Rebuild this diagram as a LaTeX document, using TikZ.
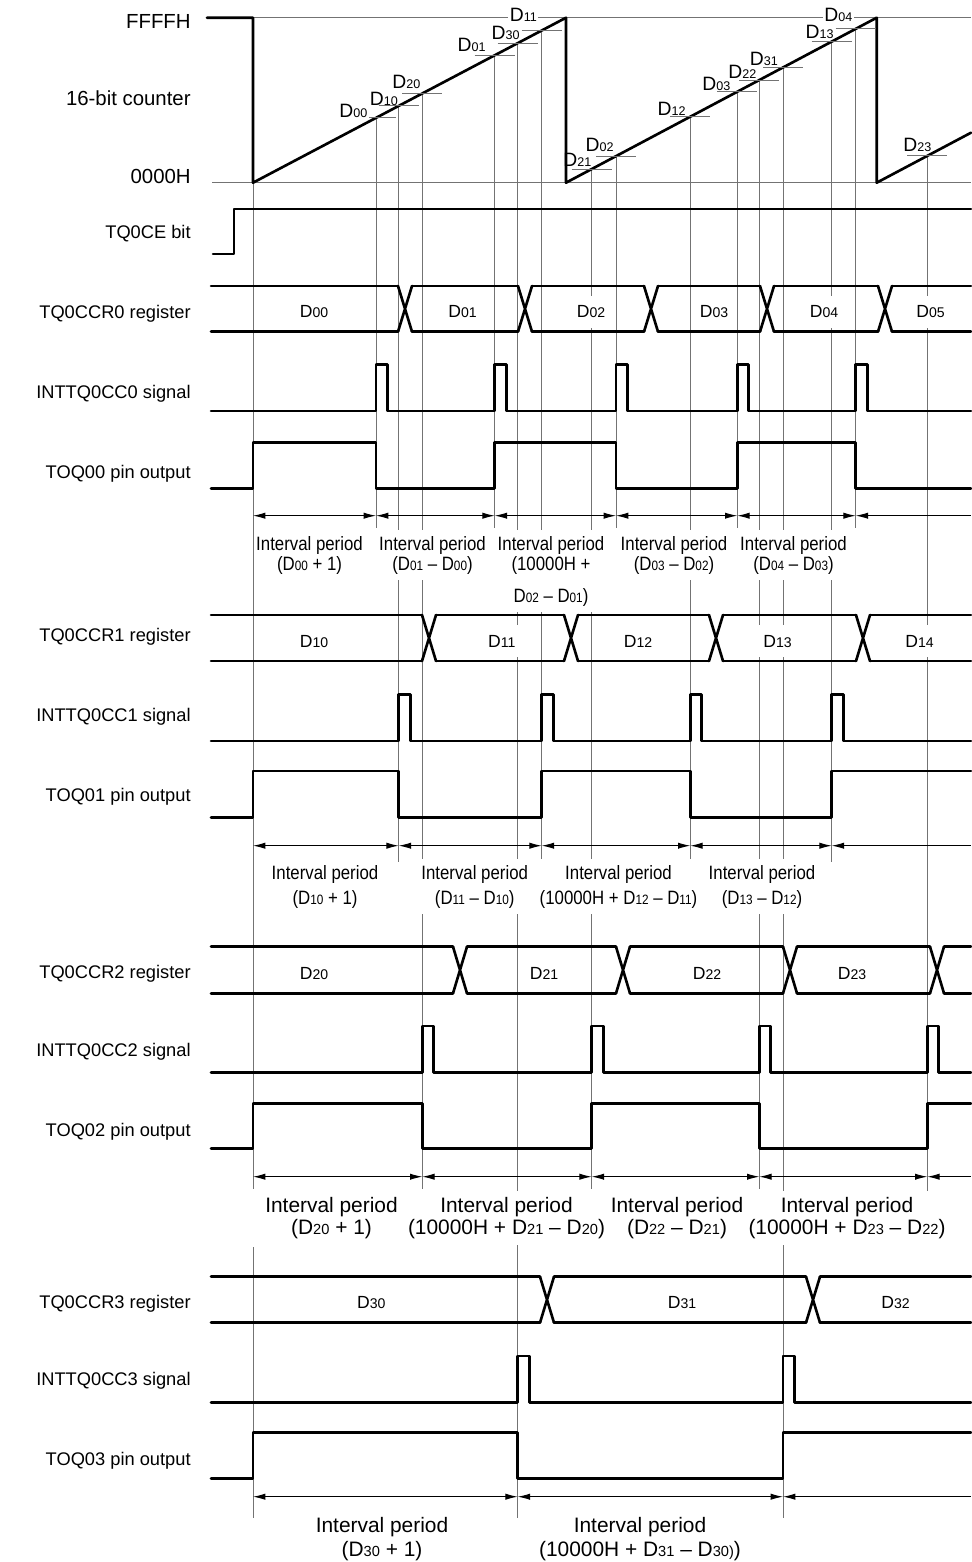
\documentclass[tikz,border=0pt]{standalone}
\usepackage{fontspec}
\setmainfont{Liberation Sans}
\usepackage{graphicx}
\usetikzlibrary{arrows.meta}

\newcommand{\dv}[2][0.7]{D\scalebox{#1}{#2}}
\newcommand{\nar}[1]{\scalebox{0.87}[1]{#1}}
\newcommand{\tpulse}[3]{%
  \draw[sig] (211,#1) \foreach \p in {#3} {-- (\p,#1) -- (\p,#2) -- ({\p+11.5},#2) -- ({\p+11.5},#1)} -- (971,#1);}
\newcommand{\treg}[3]{%
  \foreach \c [remember=\c as \p (initially 204)] in {#3,978}
    {\draw[sig] ({\p+7},#1) -- ({\c-7},#1) ({\p+7},#2) -- ({\c-7},#2);}
  \foreach \c in {#3}
    {\draw[sig] ({\c-7},#1) -- ({\c+7},#2) ({\c-7},#2) -- ({\c+7},#1);}}
\newcommand{\tspan}[3]{%
  \foreach \a/\b in {#2} {\draw[ispan] (\a,#1) -- (\b,#1);}
  \draw[ispanl] (#3,#1) -- (971,#1);}
\newcommand{\cval}[6][]{%
  \draw[guide] ({#2-20},#3) -- ({#2+20},#3);
  \node[cval,#1] (c#4) at (#5,#6) {\dv[0.65]{#4}};}

\tikzset{
  sig/.style={line width=1.5pt, line cap=round, line join=round},
  guide/.style={black!55, line width=0.55pt},
  ispan/.style={line width=0.55pt, {Latex[length=7pt,width=3.6pt]}-{Latex[length=7pt,width=3.6pt]}},
  ispanl/.style={line width=0.55pt, {Latex[length=7pt,width=3.6pt]}-},
  lbl/.style={anchor=base east, inner sep=0pt, font=\fontsize{10.4}{12}\selectfont},
  lblc/.style={lbl, font=\fontsize{11.6}{13}\selectfont},
  cval/.style={anchor=base east, inner sep=0.8pt, font=\fontsize{11}{13}\selectfont},
  regv/.style={anchor=base, fill=white, inner xsep=3.1pt, inner ysep=5.5pt, font=\fontsize{10}{11}\selectfont},
  ivA/.style={anchor=north, fill=white, align=center, inner xsep=0.6pt, inner ysep=3.4pt, font=\fontsize{11}{10}\selectfont},
  ivB/.style={ivA, font=\fontsize{11}{14.2}\selectfont},
  ivC/.style={ivA, font=\fontsize{11.9}{12.6}\selectfont},
  ivD/.style={ivA, font=\fontsize{11.9}{13.6}\selectfont}
}

\begin{document}
\begin{tikzpicture}[x=0.02cm, y=-0.02cm]
  \useasboundingbox (0,0) rectangle (971,1562);
  % guide lines
  \foreach \x/\a/\b in {253/182.7/1189, 253/1247/1518, 376/117.9/528, 398.7/105.9/862,
      422.3/93.4/1189, 494.7/55.3/528, 517.7/43.2/1518, 541.7/30.5/862, 591.7/169.1/1189,
      616/156.2/528, 690.3/116.7/862, 737.3/91.7/528, 759.3/80/1189, 783/67.5/1518,
      831.7/41.6/862, 855.7/28.9/528, 927.3/155.8/1192}
    \draw[guide] (\x,\a) -- (\x,\b);
  \draw[guide] (253,17.7) -- (971,17.7) (212,182.7) -- (971,182.7);
  % counter
  \draw[sig] (207,17.7) -- (253,17.7) -- (253,182.7) -- (566,17.7) -- (566,182.7)
    -- (876.7,17.7) -- (876.7,182.7) -- (971,132.7);
  \cval[fill=white]{376}{117.9}{00}{369}{117.3}
  \cval{398.7}{105.9}{10}{399.5}{105}
  \cval{422.3}{93.4}{20}{422}{88.3}
  \cval{494.7}{55.3}{01}{487.3}{51.7}
  \cval{517.7}{43.2}{30}{521.3}{39}
  \cval[fill=white]{541.7}{30.5}{11}{538.6}{21.7}
  \cval{591.7}{169.1}{21}{593}{166.7}
  \cval{616}{156.2}{02}{615.3}{151.7}
  \cval{690.3}{116.7}{12}{687.3}{115}
  \cval{737.3}{91.7}{03}{732}{90}
  \cval{759.3}{80}{22}{758}{78.3}
  \cval{783}{67.5}{31}{779.6}{65}
  \cval{831.7}{41.6}{13}{835.3}{38.3}
  \cval[fill=white]{855.7}{28.9}{04}{854}{21.7}
  \cval{927.3}{155.8}{23}{933}{151.7}
  % signals
  \draw[sig] (213,254) -| (234,209) -- (971,209);
  \treg{286}{331.7}{405,525,651,767,885}
  \tpulse{411}{364.3}{376,494.7,616,737.3,855.7}
  \draw[sig] (211,488.3) -| (253,442.3) -| (376,488.3) -| (494.7,442.3) -| (616,488.3)
    -| (737.3,442.3) -| (855.7,488.3) -- (971,488.3);
  \treg{615}{661}{429,571,716,863}
  \tpulse{741}{694.3}{398.7,541.7,690.3,831.7}
  \draw[sig] (211,817.3) -| (253,771) -| (398.7,817.3) -| (541.7,771) -| (690.3,817.3)
    -| (831.7,771) -- (971,771);
  \treg{946.7}{993.3}{460,623,790,937}
  \tpulse{1072.7}{1026}{422.3,591.7,759.3,927.3}
  \draw[sig] (211,1148.3) -| (253,1103.3) -| (422.3,1148.3) -| (591.7,1103.3) -| (759.3,1148.3)
    -| (927.3,1103.3) -- (971,1103.3);
  \treg{1276.7}{1322.7}{547,813}
  \tpulse{1402.3}{1356}{517.7,783}
  \draw[sig] (211,1478.3) -| (253,1432.3) -| (517.7,1478.3) -| (783,1432.3) -- (971,1432.3);
  % interval arrows
  \tspan{515.7}{253/376,376/494.7,494.7/616,616/737.3,737.3/855.7}{855.7}
  \tspan{845.7}{253/398.7,398.7/541.7,541.7/690.3,690.3/831.7}{831.7}
  \tspan{1176.7}{253/422.3,422.3/591.7,591.7/759.3,759.3/927.3}{927.3}
  \tspan{1496.7}{253/517.7,517.7/783}{783}
  % register values
  \foreach \x/\n in {314/00,462.5/01,591/02,714/03,824/04,930.5/05}
    \node[regv] (r\n) at (\x,317.9) {\dv[0.8]{\n}};
  \foreach \x/\n in {314/10,501.7/11,638/12,777.5/13,919.5/14}
    \node[regv] (r\n) at (\x,647) {\dv[0.8]{\n}};
  \foreach \x/\n in {314/20,544/21,707/22,852/23}
    \node[regv] (r\n) at (\x,979) {\dv[0.8]{\n}};
  \foreach \x/\n in {371.3/30,682/31,895.5/32}
    \node[regv] (r\n) at (\x,1308.7) {\dv[0.8]{\n}};
  % interval labels
  \node[ivA] (i00) at (309.5,530) {\nar{Interval period}\\\nar{(\dv{00} + 1)}};
  \node[ivA] (i01) at (432.5,530) {\nar{Interval period}\\\nar{(\dv{01} \textendash{} \dv{00})}};
  \node[ivA] (i02) at (551,530) {\nar{Interval period}\\\nar{(10000H +}\\[7pt]\nar{\dv{02} \textendash{} \dv{01})}};
  \node[ivA] (i03) at (674,530) {\nar{Interval period}\\\nar{(\dv{03} \textendash{} \dv{02})}};
  \node[ivA] (i04) at (793.5,530) {\nar{Interval period}\\\nar{(\dv{04} \textendash{} \dv{03})}};
  \node[ivB] (i10) at (325,859) {\nar{Interval period}\\\nar{(\dv{10} + 1)}};
  \node[ivB] (i11) at (474.7,859) {\nar{Interval period}\\\nar{(\dv{11} \textendash{} \dv{10})}};
  \node[ivB] (i12) at (618.5,859) {\nar{Interval period}\\\nar{(10000H + \dv{12} \textendash{} \dv{11})}};
  \node[ivB] (i13) at (762,859) {\nar{Interval period}\\\nar{(\dv{13} \textendash{} \dv{12})}};
  \node[ivC] (i20) at (331.5,1190.7) {Interval period\\(\dv{20} + 1)};
  \node[ivC] (i21) at (506.5,1190.7) {Interval period\\(10000H + \dv{21} \textendash{} \dv{20})};
  \node[ivC] (i22) at (677,1190.7) {Interval period\\(\dv{22} \textendash{} \dv{21})};
  \node[ivC] (i23) at (847,1190.7) {Interval period\\(10000H + \dv{23} \textendash{} \dv{22})};
  \node[ivD] (i30) at (382,1510.7) {Interval period\\(\dv{30} + 1)};
  \node[ivD] (i31) at (640,1510.7) {Interval period\\(10000H + \dv{31} \textendash{} \dv{30)})};
  % row names
  \foreach \y/\t [count=\k] in {28.3/FFFFH, 105/16-bit counter, 183.3/0000H}
    \node[lblc] (cnt\k) at (191,\y) {\t};
  \foreach \y/\t [count=\k] in {238.3/TQ0CE bit,
      318.3/TQ0CCR0 register, 398.3/INTTQ0CC0 signal, 478.3/TOQ00 pin output,
      641.7/TQ0CCR1 register, 721.7/INTTQ0CC1 signal, 801.7/TOQ01 pin output,
      978.3/TQ0CCR2 register, 1056.7/INTTQ0CC2 signal, 1136.7/TOQ02 pin output,
      1308.3/TQ0CCR3 register, 1385/INTTQ0CC3 signal, 1465/TOQ03 pin output}
    \node[lbl] (row\k) at (191,\y) {\t};
\end{tikzpicture}
\end{document}
